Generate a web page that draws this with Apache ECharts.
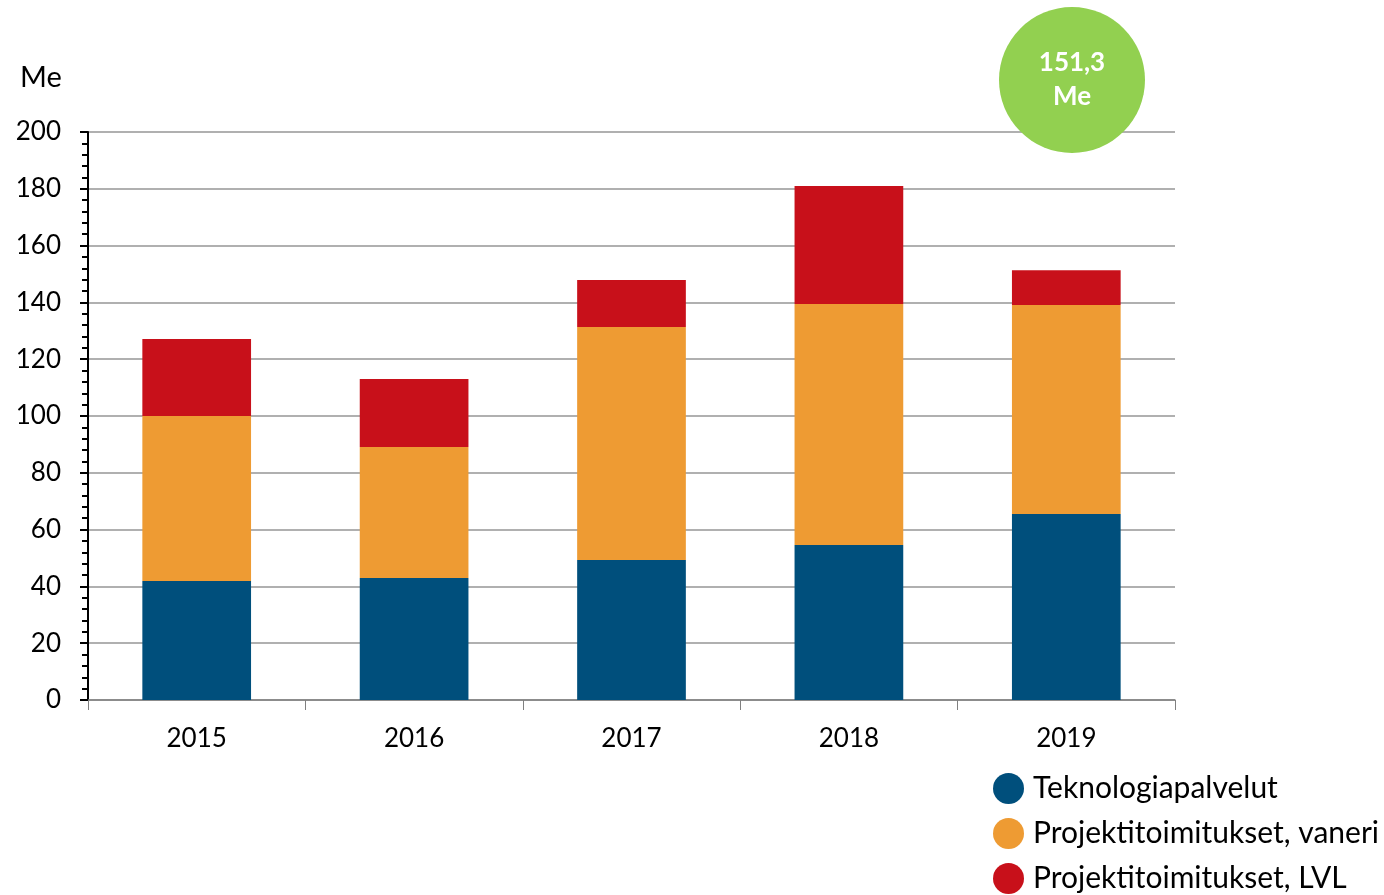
<!DOCTYPE html>
<html><head><meta charset="utf-8">
<script src="https://cdn.jsdelivr.net/npm/echarts@6/dist/echarts.min.js"></script>
<style>html,body{margin:0;padding:0;background:#fff}#c{width:1384px;height:895px}</style>
</head><body><div id="c"></div>
<script>
const years = ['2015','2016','2017','2018','2019'];
const seriesNames = ['Teknologiapalvelut','Projektitoimitukset, vaneri','Projektitoimitukset, LVL'];
const teknologia = [41.9, 43.0, 49.3, 54.6, 65.5];
const vaneri = [58.1, 46.1, 82.0, 84.8, 73.6];
const lvl = [27.1, 23.9, 16.6, 41.6, 12.2];
const colors = ['#004f7c', '#ee9b33', '#c8101a'];
const yTicks = [0, 20, 40, 60, 80, 100, 120, 140, 160, 180, 200];
const unitLabel = 'Me';
const totalLabel = '151,3\nMe';

const font = 'Lato, "Open Sans", sans-serif';
const chart = echarts.init(document.getElementById('c'));
const data = [teknologia, vaneri, lvl];
chart.setOption({
  animation: false,
  grid: {left: 88, right: 209, top: 132, bottom: 195, containLabel: false},
  legend: {
    orient: 'vertical', left: 993, top: 773, itemGap: 14, padding: 0,
    icon: 'circle', itemWidth: 31, itemHeight: 31,
    textStyle: {fontFamily: font, fontSize: 30, lineHeight: 31, color: '#000', padding: [0,0,0,4]},
    data: seriesNames
  },
  xAxis: {
    type: 'category', data: years,
    axisLine: {lineStyle: {color: '#808080', width: 1.5}},
    axisTick: {show: true, length: 10, lineStyle: {color: '#808080'}},
    axisLabel: {fontFamily: font, fontSize: 26, color: '#000', margin: 26}
  },
  yAxis: {
    type: 'value', min: yTicks[0], max: yTicks[yTicks.length-1], interval: 20,
    axisLine: {show: true, lineStyle: {color: '#000', width: 2}},
    axisTick: {show: true, length: 8, lineStyle: {color: '#000', width: 2}},
    minorTick: {show: true, splitNumber: 5, length: 6, lineStyle: {color: '#000', width: 2}},
    splitLine: {lineStyle: {color: '#b0b0b0', width: 2}},
    axisLabel: {fontFamily: font, fontSize: 26, color: '#000', margin: 27}
  },
  series: seriesNames.map((n, i) => ({
    name: n, type: 'bar', stack: 'total', barWidth: '50%',
    itemStyle: {color: colors[i]},
    data: data[i]
  })),
  graphic: [
    {type: 'text', x: 20, y: 78, style: {text: unitLabel, font: '29px ' + font, fill: '#000', verticalAlign: 'middle'}},
    {type: 'circle', shape: {cx: 1072, cy: 80, r: 73}, style: {fill: '#92d050'}, z: 100},
    {type: 'text', x: 1072, y: 80, z: 101, style: {text: totalLabel, font: 'bold 26px ' + font, fill: '#fff', align: 'center', verticalAlign: 'middle', lineHeight: 34}}
  ]
});
</script></body></html>
